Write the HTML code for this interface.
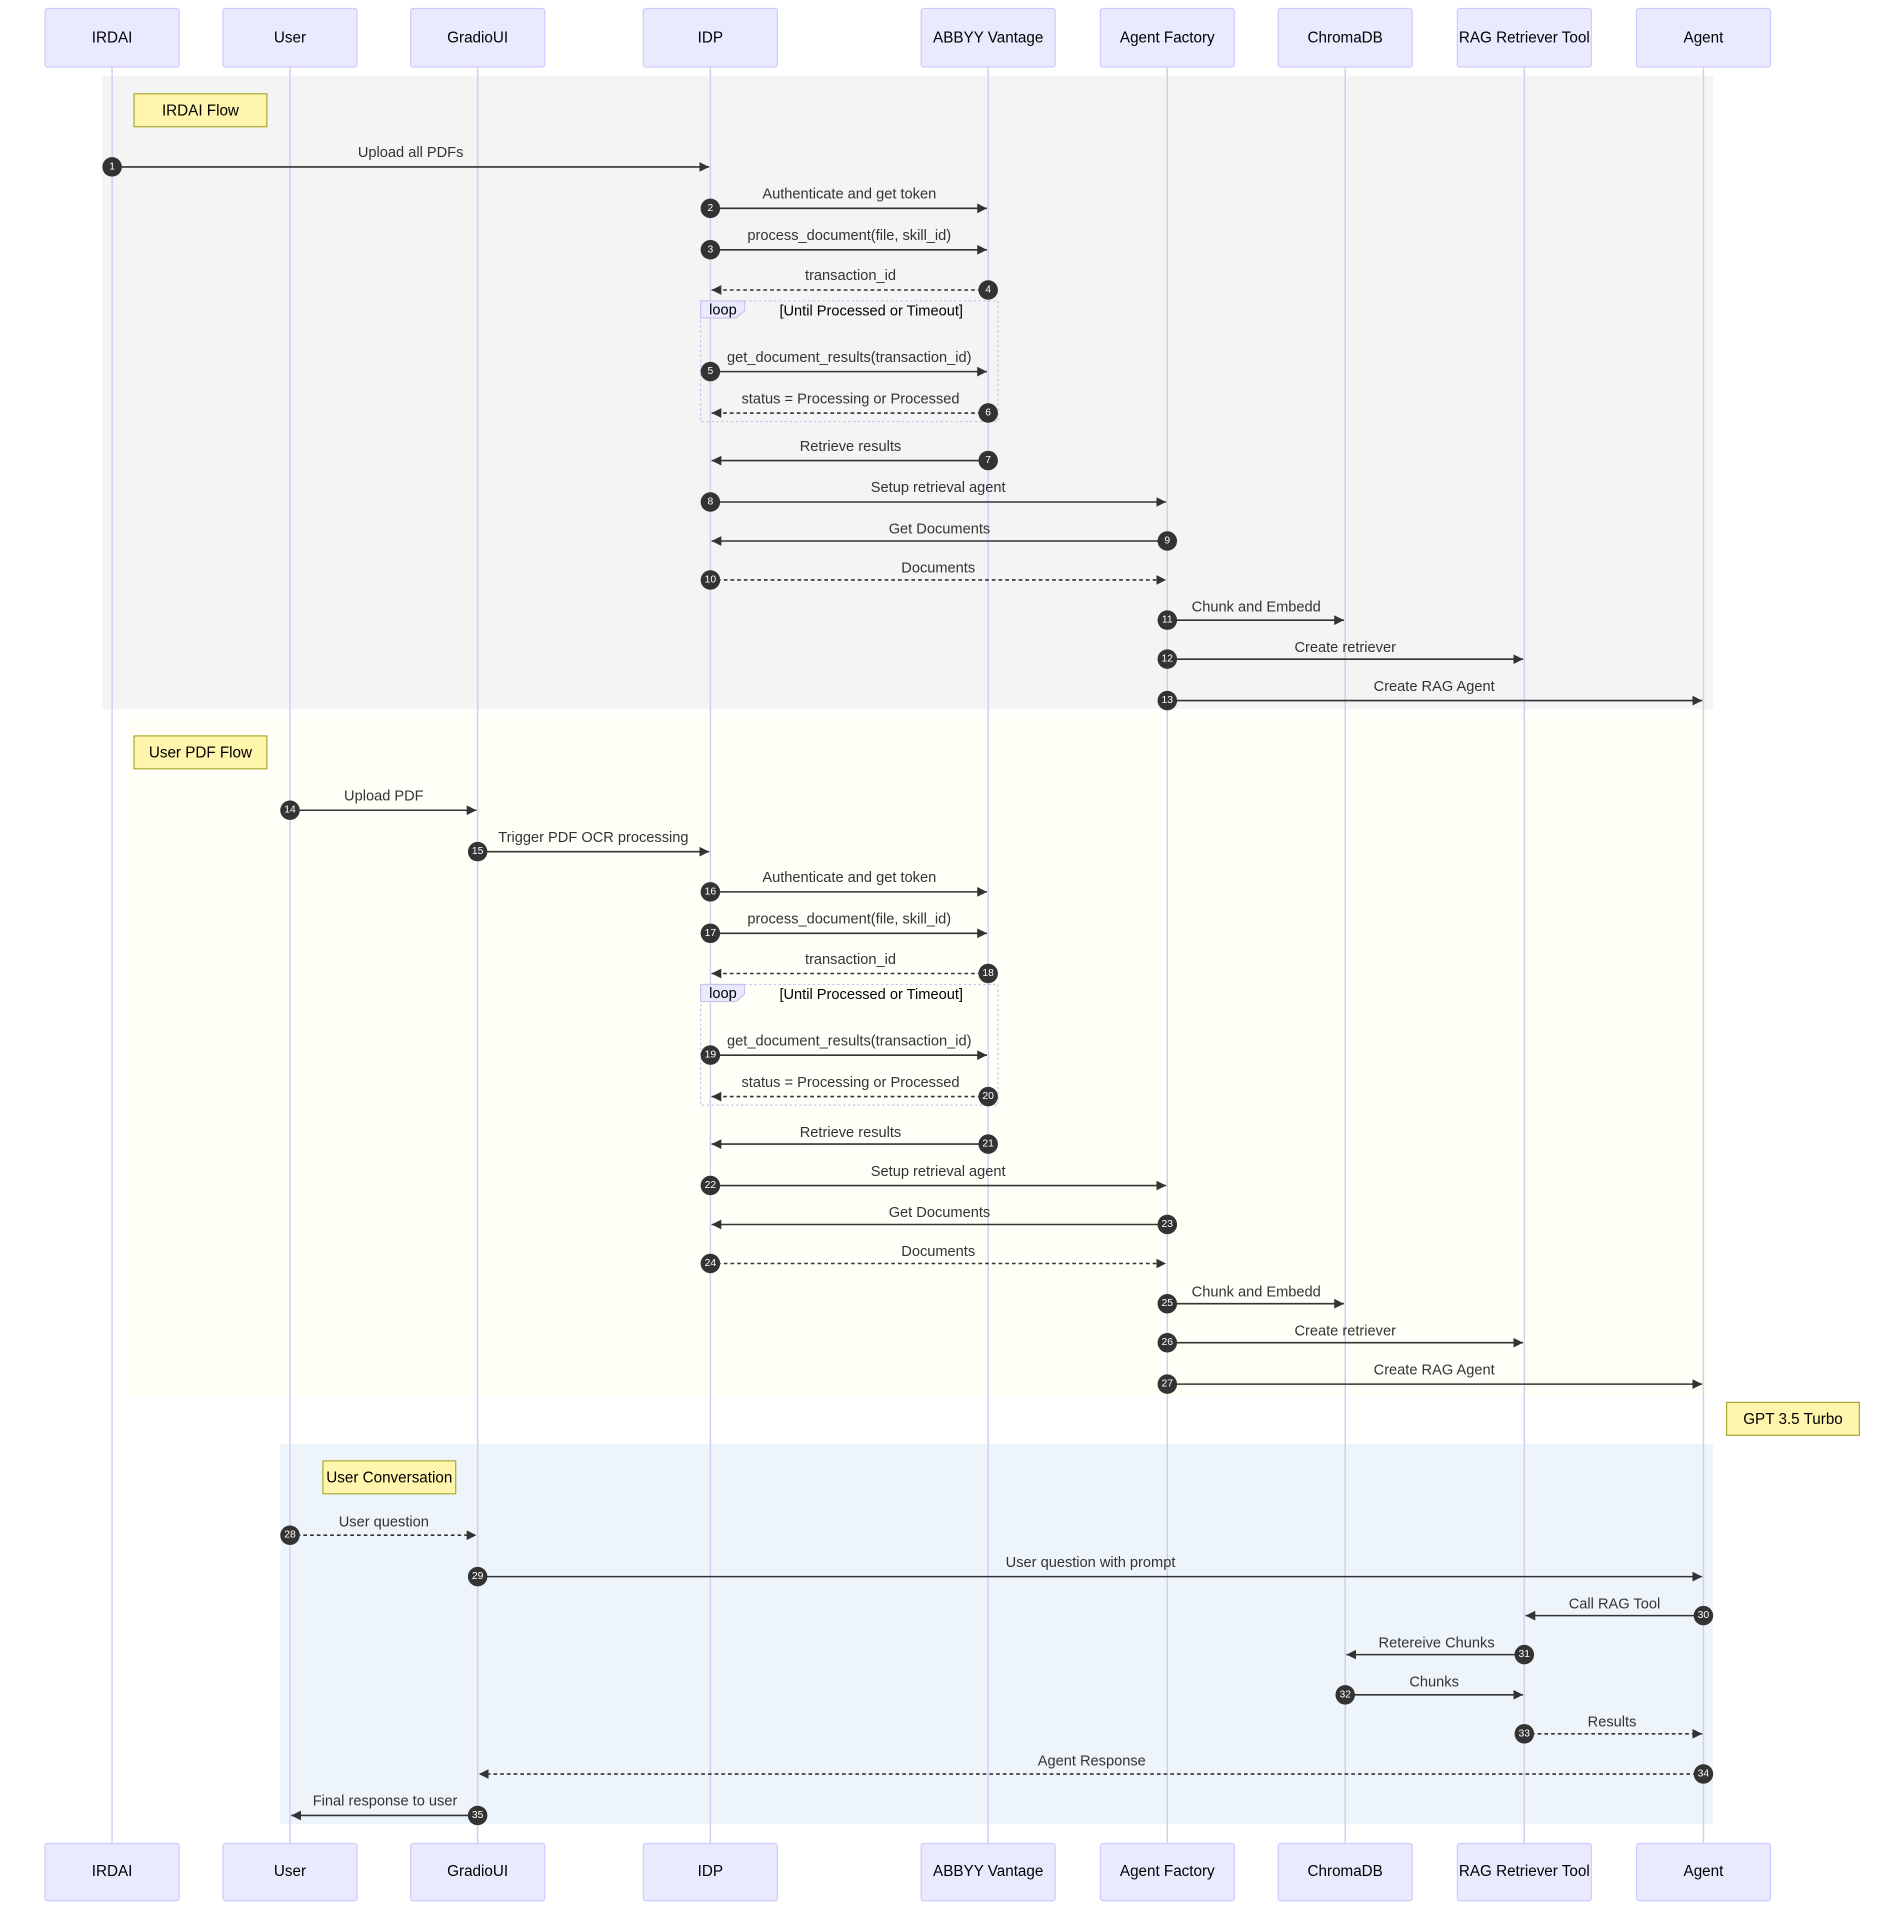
<!DOCTYPE html>
<html><head><meta charset="utf-8"><style>
html,body{margin:0;padding:0;background:#fff;}
svg{display:block;}
text{font-family:"Liberation Sans",Arial,sans-serif;}
.a{fill:#eaeaff;stroke:#ccccff;stroke-width:1;}
.at{font-size:12.5px;fill:#000;text-anchor:middle;dominant-baseline:central;}
.ll{stroke:#d3cdf0;stroke-width:1.2;}
.m{stroke:#333;stroke-width:1.3;marker-end:url(#ah);}
.d{stroke-dasharray:3,2.5;}
.ml{font-size:12px;fill:#333;text-anchor:middle;}
.c{fill:#333;}
.n{font-size:8.5px;fill:#fff;text-anchor:middle;dominant-baseline:central;}
.note{fill:#fff5ad;stroke:#aaaa33;stroke-width:1;}
.nt{font-size:12.5px;fill:#000;text-anchor:middle;dominant-baseline:central;}
.loop{fill:none;stroke:#c9c3ee;stroke-width:1;stroke-dasharray:2,2;}
.lt{font-size:12px;fill:#000;}
</style></head><body>
<svg width="1904" height="1910" viewBox="0 0 1562.6 1567.6" preserveAspectRatio="none" xmlns="http://www.w3.org/2000/svg">
<defs><marker id="ah" viewBox="0 0 10 10" refX="10" refY="5" markerWidth="8" markerHeight="8" markerUnits="userSpaceOnUse" orient="auto"><path d="M0,0 L10,5 L0,10 z" fill="#333"/></marker></defs>
<rect x="84" y="62" width="1322" height="520" fill="#f4f4f4"/>
<rect x="104" y="586" width="1302" height="559" fill="#fffff8"/>
<rect x="230" y="1185" width="1176" height="312" fill="#eef5fa"/>
<g class="ll">
<line x1="92" y1="55" x2="92" y2="1513"/><line x1="238" y1="55" x2="238" y2="1513"/><line x1="392" y1="55" x2="392" y2="1513"/><line x1="583" y1="55" x2="583" y2="1513"/><line x1="811" y1="55" x2="811" y2="1513"/><line x1="958" y1="55" x2="958" y2="1513"/><line x1="1104" y1="55" x2="1104" y2="1513"/><line x1="1251" y1="55" x2="1251" y2="1513"/><line x1="1398" y1="55" x2="1398" y2="1513"/>
</g>
<g>
<rect class="a" x="37" y="7" width="110" height="48" rx="2"/><text class="at" x="92" y="31">IRDAI</text>
<rect class="a" x="183" y="7" width="110" height="48" rx="2"/><text class="at" x="238" y="31">User</text>
<rect class="a" x="337" y="7" width="110" height="48" rx="2"/><text class="at" x="392" y="31">GradioUI</text>
<rect class="a" x="528" y="7" width="110" height="48" rx="2"/><text class="at" x="583" y="31">IDP</text>
<rect class="a" x="756" y="7" width="110" height="48" rx="2"/><text class="at" x="811" y="31">ABBYY Vantage</text>
<rect class="a" x="903" y="7" width="110" height="48" rx="2"/><text class="at" x="958" y="31">Agent Factory</text>
<rect class="a" x="1049" y="7" width="110" height="48" rx="2"/><text class="at" x="1104" y="31">ChromaDB</text>
<rect class="a" x="1196" y="7" width="110" height="48" rx="2"/><text class="at" x="1251" y="31">RAG Retriever Tool</text>
<rect class="a" x="1343" y="7" width="110" height="48" rx="2"/><text class="at" x="1398" y="31">Agent</text>
<rect class="a" x="37" y="1513" width="110" height="47" rx="2"/><text class="at" x="92" y="1536">IRDAI</text>
<rect class="a" x="183" y="1513" width="110" height="47" rx="2"/><text class="at" x="238" y="1536">User</text>
<rect class="a" x="337" y="1513" width="110" height="47" rx="2"/><text class="at" x="392" y="1536">GradioUI</text>
<rect class="a" x="528" y="1513" width="110" height="47" rx="2"/><text class="at" x="583" y="1536">IDP</text>
<rect class="a" x="756" y="1513" width="110" height="47" rx="2"/><text class="at" x="811" y="1536">ABBYY Vantage</text>
<rect class="a" x="903" y="1513" width="110" height="47" rx="2"/><text class="at" x="958" y="1536">Agent Factory</text>
<rect class="a" x="1049" y="1513" width="110" height="47" rx="2"/><text class="at" x="1104" y="1536">ChromaDB</text>
<rect class="a" x="1196" y="1513" width="110" height="47" rx="2"/><text class="at" x="1251" y="1536">RAG Retriever Tool</text>
<rect class="a" x="1343" y="1513" width="110" height="47" rx="2"/><text class="at" x="1398" y="1536">Agent</text>
</g>
<rect class="note" x="110" y="77" width="109" height="27"/><text class="nt" x="164.5" y="91">IRDAI Flow</text>
<rect class="note" x="110" y="604" width="109" height="27"/><text class="nt" x="164.5" y="618">User PDF Flow</text>
<rect class="note" x="265" y="1199" width="109" height="27"/><text class="nt" x="319.5" y="1213">User Conversation</text>
<rect class="note" x="1417" y="1151" width="109" height="27"/><text class="nt" x="1471.5" y="1165">GPT 3.5 Turbo</text>
<rect class="loop" x="575" y="247" width="244" height="99"/>
<path d="M575,247 L611,247 L611,255 L604,261 L575,261 z" fill="#eaeaff" stroke="#c9c3ee"/>
<text class="lt" x="582" y="258">loop</text><text class="lt" x="715" y="259" text-anchor="middle">[Until Processed or Timeout]</text>
<rect class="loop" x="575" y="808" width="244" height="99"/>
<path d="M575,808 L611,808 L611,816 L604,822 L575,822 z" fill="#eaeaff" stroke="#c9c3ee"/>
<text class="lt" x="582" y="819">loop</text><text class="lt" x="715" y="820" text-anchor="middle">[Until Processed or Timeout]</text>
<g>
<line class="m" x1="92" y1="137" x2="582" y2="137"/><text class="ml" x="337" y="129">Upload all PDFs</text><circle class="c" cx="92" cy="137" r="8"/><text class="n" x="92" y="137">1</text>
<line class="m" x1="583" y1="171" x2="810" y2="171"/><text class="ml" x="697" y="163">Authenticate and get token</text><circle class="c" cx="583" cy="171" r="8"/><text class="n" x="583" y="171">2</text>
<line class="m" x1="583" y1="205" x2="810" y2="205"/><text class="ml" x="697" y="197">process_document(file, skill_id)</text><circle class="c" cx="583" cy="205" r="8"/><text class="n" x="583" y="205">3</text>
<line class="m d" x1="811" y1="238" x2="584" y2="238"/><text class="ml" x="698" y="230">transaction_id</text><circle class="c" cx="811" cy="238" r="8"/><text class="n" x="811" y="238">4</text>
<line class="m" x1="583" y1="305" x2="810" y2="305"/><text class="ml" x="697" y="297">get_document_results(transaction_id)</text><circle class="c" cx="583" cy="305" r="8"/><text class="n" x="583" y="305">5</text>
<line class="m d" x1="811" y1="339" x2="584" y2="339"/><text class="ml" x="698" y="331">status = Processing or Processed</text><circle class="c" cx="811" cy="339" r="8"/><text class="n" x="811" y="339">6</text>
<line class="m" x1="811" y1="378" x2="584" y2="378"/><text class="ml" x="698" y="370">Retrieve results</text><circle class="c" cx="811" cy="378" r="8"/><text class="n" x="811" y="378">7</text>
<line class="m" x1="583" y1="412" x2="957" y2="412"/><text class="ml" x="770" y="404">Setup retrieval agent</text><circle class="c" cx="583" cy="412" r="8"/><text class="n" x="583" y="412">8</text>
<line class="m" x1="958" y1="444" x2="584" y2="444"/><text class="ml" x="771" y="438">Get Documents</text><circle class="c" cx="958" cy="444" r="8"/><text class="n" x="958" y="444">9</text>
<line class="m d" x1="583" y1="476" x2="957" y2="476"/><text class="ml" x="770" y="470">Documents</text><circle class="c" cx="583" cy="476" r="8"/><text class="n" x="583" y="476">10</text>
<line class="m" x1="958" y1="509" x2="1103" y2="509"/><text class="ml" x="1031" y="502">Chunk and Embedd</text><circle class="c" cx="958" cy="509" r="8"/><text class="n" x="958" y="509">11</text>
<line class="m" x1="958" y1="541" x2="1250" y2="541"/><text class="ml" x="1104" y="535">Create retriever</text><circle class="c" cx="958" cy="541" r="8"/><text class="n" x="958" y="541">12</text>
<line class="m" x1="958" y1="575" x2="1397" y2="575"/><text class="ml" x="1177" y="567">Create RAG Agent</text><circle class="c" cx="958" cy="575" r="8"/><text class="n" x="958" y="575">13</text>
<line class="m" x1="238" y1="665" x2="391" y2="665"/><text class="ml" x="315" y="657">Upload PDF</text><circle class="c" cx="238" cy="665" r="8"/><text class="n" x="238" y="665">14</text>
<line class="m" x1="392" y1="699" x2="582" y2="699"/><text class="ml" x="487" y="691">Trigger PDF OCR processing</text><circle class="c" cx="392" cy="699" r="8"/><text class="n" x="392" y="699">15</text>
<line class="m" x1="583" y1="732" x2="810" y2="732"/><text class="ml" x="697" y="724">Authenticate and get token</text><circle class="c" cx="583" cy="732" r="8"/><text class="n" x="583" y="732">16</text>
<line class="m" x1="583" y1="766" x2="810" y2="766"/><text class="ml" x="697" y="758">process_document(file, skill_id)</text><circle class="c" cx="583" cy="766" r="8"/><text class="n" x="583" y="766">17</text>
<line class="m d" x1="811" y1="799" x2="584" y2="799"/><text class="ml" x="698" y="791">transaction_id</text><circle class="c" cx="811" cy="799" r="8"/><text class="n" x="811" y="799">18</text>
<line class="m" x1="583" y1="866" x2="810" y2="866"/><text class="ml" x="697" y="858">get_document_results(transaction_id)</text><circle class="c" cx="583" cy="866" r="8"/><text class="n" x="583" y="866">19</text>
<line class="m d" x1="811" y1="900" x2="584" y2="900"/><text class="ml" x="698" y="892">status = Processing or Processed</text><circle class="c" cx="811" cy="900" r="8"/><text class="n" x="811" y="900">20</text>
<line class="m" x1="811" y1="939" x2="584" y2="939"/><text class="ml" x="698" y="933">Retrieve results</text><circle class="c" cx="811" cy="939" r="8"/><text class="n" x="811" y="939">21</text>
<line class="m" x1="583" y1="973" x2="957" y2="973"/><text class="ml" x="770" y="965">Setup retrieval agent</text><circle class="c" cx="583" cy="973" r="8"/><text class="n" x="583" y="973">22</text>
<line class="m" x1="958" y1="1005" x2="584" y2="1005"/><text class="ml" x="771" y="999">Get Documents</text><circle class="c" cx="958" cy="1005" r="8"/><text class="n" x="958" y="1005">23</text>
<line class="m d" x1="583" y1="1037" x2="957" y2="1037"/><text class="ml" x="770" y="1031">Documents</text><circle class="c" cx="583" cy="1037" r="8"/><text class="n" x="583" y="1037">24</text>
<line class="m" x1="958" y1="1070" x2="1103" y2="1070"/><text class="ml" x="1031" y="1064">Chunk and Embedd</text><circle class="c" cx="958" cy="1070" r="8"/><text class="n" x="958" y="1070">25</text>
<line class="m" x1="958" y1="1102" x2="1250" y2="1102"/><text class="ml" x="1104" y="1096">Create retriever</text><circle class="c" cx="958" cy="1102" r="8"/><text class="n" x="958" y="1102">26</text>
<line class="m" x1="958" y1="1136" x2="1397" y2="1136"/><text class="ml" x="1177" y="1128">Create RAG Agent</text><circle class="c" cx="958" cy="1136" r="8"/><text class="n" x="958" y="1136">27</text>
<line class="m d" x1="238" y1="1260" x2="391" y2="1260"/><text class="ml" x="315" y="1253">User question</text><circle class="c" cx="238" cy="1260" r="8"/><text class="n" x="238" y="1260">28</text>
<line class="m" x1="392" y1="1294" x2="1397" y2="1294"/><text class="ml" x="895" y="1286">User question with prompt</text><circle class="c" cx="392" cy="1294" r="8"/><text class="n" x="392" y="1294">29</text>
<line class="m" x1="1398" y1="1326" x2="1252" y2="1326"/><text class="ml" x="1325" y="1320">Call RAG Tool</text><circle class="c" cx="1398" cy="1326" r="8"/><text class="n" x="1398" y="1326">30</text>
<line class="m" x1="1251" y1="1358" x2="1105" y2="1358"/><text class="ml" x="1179" y="1352">Retereive Chunks</text><circle class="c" cx="1251" cy="1358" r="8"/><text class="n" x="1251" y="1358">31</text>
<line class="m" x1="1104" y1="1391" x2="1250" y2="1391"/><text class="ml" x="1177" y="1384">Chunks</text><circle class="c" cx="1104" cy="1391" r="8"/><text class="n" x="1104" y="1391">32</text>
<line class="m d" x1="1251" y1="1423" x2="1397" y2="1423"/><text class="ml" x="1323" y="1417">Results</text><circle class="c" cx="1251" cy="1423" r="8"/><text class="n" x="1251" y="1423">33</text>
<line class="m d" x1="1398" y1="1456" x2="393" y2="1456"/><text class="ml" x="896" y="1449">Agent Response</text><circle class="c" cx="1398" cy="1456" r="8"/><text class="n" x="1398" y="1456">34</text>
<line class="m" x1="392" y1="1490" x2="239" y2="1490"/><text class="ml" x="316" y="1482">Final response to user</text><circle class="c" cx="392" cy="1490" r="8"/><text class="n" x="392" y="1490">35</text>
</g>
</svg>
</body></html>
